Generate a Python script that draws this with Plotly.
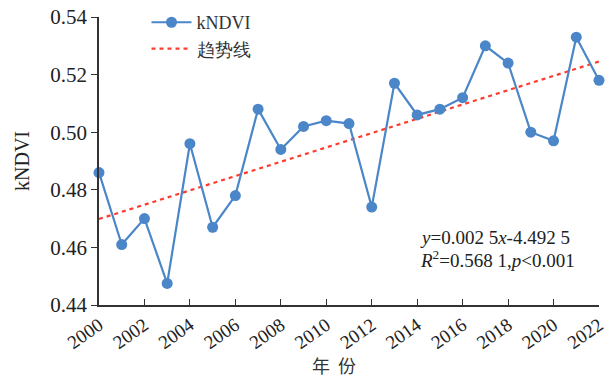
import numpy as np
import plotly.graph_objects as go

years = list(range(2000, 2023))
kndvi = [0.486, 0.461, 0.470, 0.4475, 0.496, 0.467, 0.478, 0.508, 0.494, 0.502,
         0.504, 0.503, 0.474, 0.517, 0.506, 0.508, 0.512, 0.530, 0.524, 0.500,
         0.497, 0.533, 0.518]
x_ticks = list(range(2000, 2023, 2))
y_ticks = [0.44, 0.46, 0.48, 0.50, 0.52, 0.54]

coef = np.polyfit(years, kndvi, 1)
trend = list(np.polyval(coef, years))

serif = "Liberation Serif"
fig = go.Figure()
fig.add_trace(go.Scatter(x=years, y=trend, mode="lines", name="趋势线",
                         line=dict(color="#ff3b2f", width=2.2, dash="4px,4px")))
fig.add_trace(go.Scatter(x=years, y=kndvi, mode="lines+markers", name="kNDVI",
                         line=dict(color="#4a86c8", width=2.2),
                         marker=dict(size=11, color="#4a86c8"), cliponaxis=False))

fig.update_layout(
    width=612, height=380,
    margin=dict(l=99, r=13, t=17, b=75, autoexpand=False),
    paper_bgcolor="white", plot_bgcolor="white",
    font=dict(family=serif, size=18, color="#222"),
    showlegend=True,
    legend=dict(x=0.095, y=1.045, xanchor="left", yanchor="top",
                traceorder="reversed", bgcolor="rgba(0,0,0,0)",
                font=dict(family=serif, size=18, color="#333"),
                itemwidth=40, tracegroupgap=0),
)
fig.update_xaxes(range=[2000, 2022], tickvals=x_ticks, ticktext=[str(v) for v in x_ticks],
                 tickangle=-35, ticks="inside", ticklen=6, tickcolor="#333", automargin=False,
                 showline=True, linecolor="#333", linewidth=1.5, showgrid=False, zeroline=False,
                 tickfont=dict(size=19, family=serif))
fig.update_yaxes(range=[0.44, 0.54], tickvals=y_ticks, ticktext=["%.2f" % v for v in y_ticks],
                 ticks="outside", ticklen=6, tickcolor="#333", automargin=False,
                 showline=True, linecolor="#333", linewidth=1.5, showgrid=False, zeroline=False,
                 tickfont=dict(size=21, family=serif),
                 title=dict(text="kNDVI", font=dict(family=serif, size=20, color="#222"), standoff=15))
fig.add_annotation(xref="paper", yref="paper", x=0.47, y=-0.21, xanchor="center", yanchor="middle",
                   showarrow=False, text="年  份",
                   font=dict(family="Noto Sans CJK SC", size=18, color="#333"))
fig.add_annotation(xref="paper", yref="paper", x=0.638, y=0.233, xanchor="left", yanchor="middle",
                   showarrow=False, align="left",
                   text="<i>y</i>=0.002 5<i>x</i>-4.492 5",
                   font=dict(family=serif, size=19, color="#222"))
fig.add_annotation(xref="paper", yref="paper", x=0.638, y=0.16, xanchor="left", yanchor="middle",
                   showarrow=False, align="left",
                   text="<i>R</i><sup>2</sup>=0.568 1,<i>p</i>&lt;0.001",
                   font=dict(family=serif, size=19, color="#222"))
fig.write_html("out.html", config={"displayModeBar": False},
               post_script="document.body.style.margin='0';")
